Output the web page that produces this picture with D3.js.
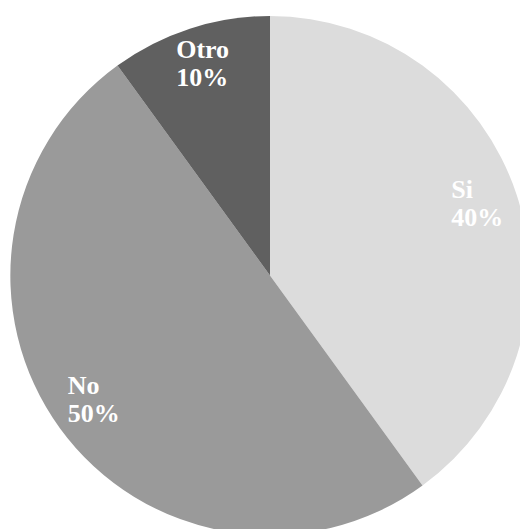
<!DOCTYPE html>
<html><head><meta charset="utf-8">
<script src="https://cdn.jsdelivr.net/npm/d3@7"></script>
<style>html,body{margin:0;padding:0;background:#fff;overflow:hidden}</style>
</head><body>
<svg id="c" width="520" height="529"></svg>
<script>
const categories = ["Si", "No", "Otro"];
const values = [40, 50, 10];
const colors = ["#dcdcdc", "#9a9a9a", "#606060"];

const svg = d3.select("#c");
const cx = 270, cy = 275.5, r = 259.5;
const g = svg.append("g").attr("transform", `translate(${cx},${cy})`);
const data = categories.map((c, i) => ({cat: c, val: values[i], color: colors[i]}));
const pie = d3.pie().value(d => d.val).sort(null);
const arc = d3.arc().innerRadius(0).outerRadius(r);
const labelArc = d3.arc().innerRadius(r * 0.84).outerRadius(r * 0.84);
const total = d3.sum(values);
const arcs = pie(data);

g.selectAll("path").data(arcs).enter().append("path")
  .attr("d", arc).attr("fill", d => d.data.color);

arcs.forEach(a => {
  const [x, y] = labelArc.centroid(a);
  const t = g.append("text")
    .attr("font-family", "'Liberation Serif', 'Times New Roman', serif")
    .attr("font-weight", "bold").attr("font-size", 26)
    .attr("fill", "#ffffff");
  const l1 = t.append("tspan").text(a.data.cat);
  const l2 = t.append("tspan").text(Math.round(a.data.val / total * 100) + "%");
  const w = Math.max(l1.node().getComputedTextLength(), l2.node().getComputedTextLength());
  const x0 = x - w / 2;
  l1.attr("x", x0).attr("y", y - 10);
  l2.attr("x", x0).attr("y", y + 18);
});
</script>
</body></html>
